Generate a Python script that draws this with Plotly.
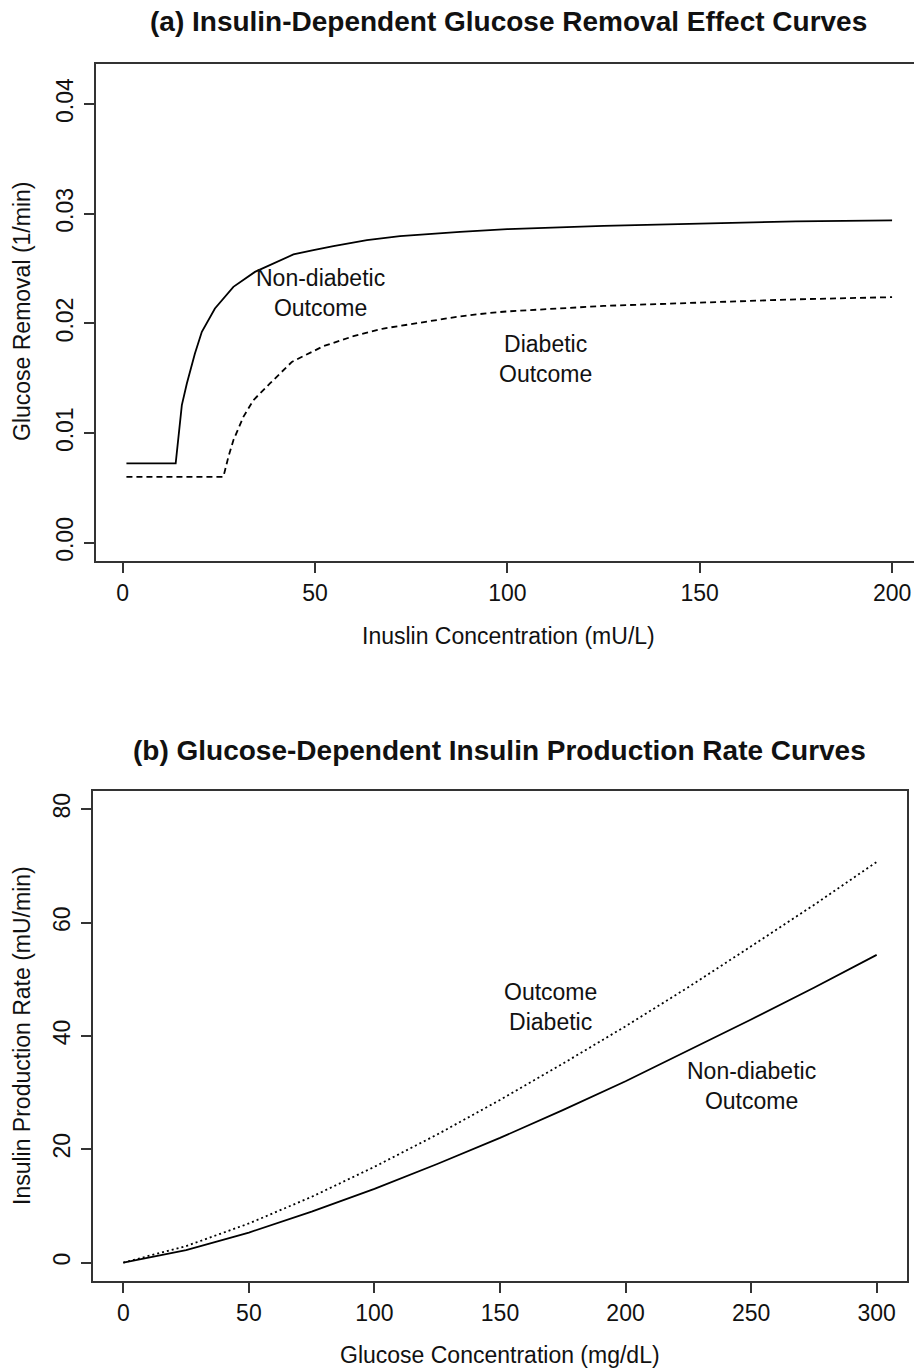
import plotly.graph_objects as go

# ---- Panel (a): insulin-dependent glucose removal ----
insulin_nd = [1, 13.8, 15.4, 16.7, 18.8, 20.6, 24.0, 28.8, 34.4, 40.1, 44.4, 49.6,
              54.8, 63.5, 72.1, 87.7, 100, 125, 150, 175, 200]
removal_nd = [0.00724, 0.00724, 0.01256, 0.01453, 0.01726, 0.01924, 0.02137, 0.02334,
              0.0247, 0.02562, 0.02629, 0.02668, 0.02705, 0.0276, 0.02796, 0.02835,
              0.0286, 0.0289, 0.0291, 0.0293, 0.0294]

insulin_d = [1, 26.2, 27.5, 28.8, 31.4, 34.0, 38.3, 44.0, 52.2, 60.0, 67.8, 78.2,
             86.8, 95.5, 100, 125, 150, 175, 200]
removal_d = [0.00602, 0.00602, 0.00784, 0.00936, 0.01149, 0.01301, 0.01453, 0.0165,
             0.01793, 0.01884, 0.01954, 0.02015, 0.0206, 0.02097, 0.0211, 0.0216,
             0.0219, 0.0222, 0.0224]

# ---- Panel (b): glucose-dependent insulin production ----
glucose = [0, 25, 50, 75, 100, 125, 150, 175, 200, 225, 250, 275, 300]
prod_nd = [0, 2.2, 5.3, 9.0, 13.0, 17.4, 22.0, 26.9, 32.0, 37.4, 42.9, 48.5, 54.3]
prod_d = [0, 2.9, 6.9, 11.6, 16.9, 22.6, 28.7, 35.1, 41.7, 48.6, 55.8, 63.1, 70.7]

xticks_a = [0, 50, 100, 150, 200]
yticks_a = [0.00, 0.01, 0.02, 0.03, 0.04]
yticklabels_a = ["0.00", "0.01", "0.02", "0.03", "0.04"]
xticks_b = [0, 50, 100, 150, 200, 250, 300]
yticks_b = [0, 20, 40, 60, 80]

W, H = 914, 1369
FONT = "Liberation Sans, Arial, sans-serif"
INK = "#111111"
AX = "#333333"


def px_x(p):
    return p / W


def px_y(p):
    return 1 - p / H


fig = go.Figure()

line_style = dict(color="black", width=1.8)
fig.add_trace(go.Scatter(x=insulin_nd, y=removal_nd, mode="lines",
                         line=dict(**line_style), xaxis="x", yaxis="y"))
fig.add_trace(go.Scatter(x=insulin_d, y=removal_d, mode="lines",
                         line=dict(**line_style, dash="6px,4px"), xaxis="x", yaxis="y"))
fig.add_trace(go.Scatter(x=glucose, y=prod_nd, mode="lines",
                         line=dict(**line_style), xaxis="x2", yaxis="y2"))
fig.add_trace(go.Scatter(x=glucose, y=prod_d, mode="lines",
                         line=dict(**line_style, dash="2px,3px"), xaxis="x2", yaxis="y2"))

axis_common = dict(
    showgrid=False, zeroline=False, showline=True, linecolor=AX, linewidth=2,
    ticks="outside", ticklen=10, tickwidth=1.5, tickcolor=AX,
    tickfont=dict(family=FONT, size=23, color=INK),
)

fig.update_layout(
    width=W, height=H,
    margin=dict(l=0, r=0, t=0, b=0),
    paper_bgcolor="white", plot_bgcolor="white",
    showlegend=False,
    xaxis=dict(**axis_common, domain=[px_x(96), 1], range=[-6.91, 205.7],
               tickvals=xticks_a, mirror=True, anchor="y", ticklabelstandoff=0),
    yaxis=dict(**axis_common, domain=[px_y(561.3), px_y(63.7)],
               range=[-0.00168, 0.04368], tickvals=yticks_a, ticktext=yticklabels_a,
               tickangle=-90, mirror=False, anchor="x", ticklabelstandoff=2),
    xaxis2=dict(**axis_common, domain=[px_x(93.2), px_x(906.8)], range=[-12, 312],
                tickvals=xticks_b, mirror=True, anchor="y2", ticklabelstandoff=1),
    yaxis2=dict(**axis_common, domain=[px_y(1280.7), px_y(791.1)], range=[-3.2, 83.2],
                tickvals=yticks_b, tickangle=-90, mirror=True, anchor="x2",
                ticklabelstandoff=2),
)

# Titles and axis labels
texts = [
    ("<b>(a) Insulin-Dependent Glucose Removal Effect Curves</b>", 508.5, 22, 28, 0),
    ("<b>(b) Glucose-Dependent Insulin Production Rate Curves</b>", 500, 750, 28, 0),
    ("Inuslin Concentration (mU/L)", 508, 636, 23, 0),
    ("Glucose Concentration (mg/dL)", 500, 1355, 23, 0),
    ("Glucose Removal (1/min)", 22, 312, 23, -90),
    ("Insulin Production Rate (mU/min)", 22, 1036, 23, -90),
]
for txt, xp, yp, size, ang in texts:
    fig.add_annotation(text=txt, x=px_x(xp), y=px_y(yp), xref="paper", yref="paper",
                       xanchor="center", yanchor="middle", showarrow=False,
                       textangle=ang, font=dict(family=FONT, size=size, color=INK))

# Two-line curve labels
curve_labels = [
    ("Non-diabetic<br>Outcome", 51.5, 0.0228, "x", "y"),
    ("Diabetic<br>Outcome", 109.8, 0.0168, "x", "y"),
    ("Outcome<br>Diabetic", 170, 45.1, "x2", "y2"),
    ("Non-diabetic<br>Outcome", 250, 31.2, "x2", "y2"),
]
for txt, xv, yv, xr, yr in curve_labels:
    fig.add_annotation(text=txt, x=xv, y=yv, xref=xr, yref=yr,
                       xanchor="center", yanchor="middle", showarrow=False,
                       borderpad=0,
                       font=dict(family=FONT, size=23, color=INK))

fig.write_html("out.html")
